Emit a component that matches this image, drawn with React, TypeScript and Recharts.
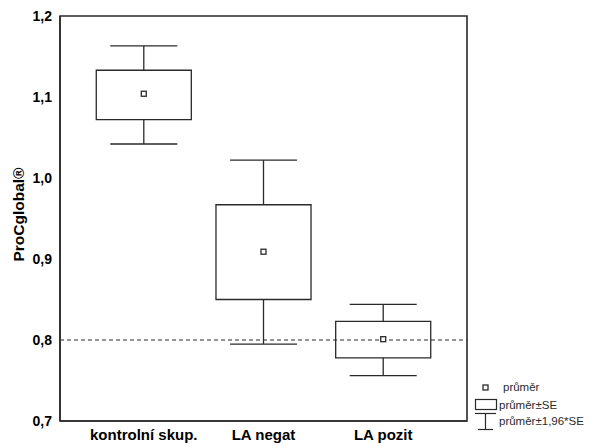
import React from "react";
import {
  ComposedChart,
  Scatter,
  XAxis,
  YAxis,
  ReferenceArea,
  ReferenceLine,
} from "recharts";

const categories = ["kontrolní skup.", "LA negat", "LA pozit"];
const means = [1.104, 0.909, 0.801];
const seLow = [1.072, 0.85, 0.778];
const seHigh = [1.133, 0.967, 0.823];
const ciLow = [1.042, 0.795, 0.756];
const ciHigh = [1.163, 1.022, 0.844];
const yTicks = [0.7, 0.8, 0.9, 1.0, 1.1, 1.2];

const BOX_HALF = 0.397;
const CAP_HALF = 0.28;
const INK = "#2a2a2a";
const FONT = "'Liberation Sans', Arial, sans-serif";

const points = categories.map((name, i) => ({ x: i + 1, y: means[i], name }));

const fmt = (v: number) => v.toFixed(1).replace(".", ",");

function MeanMarker(props: any) {
  const { cx, cy } = props;
  return <rect x={cx - 2.5} y={cy - 2.5} width={5} height={5} fill="#fff" stroke={INK} strokeWidth={1.3} />;
}

function LegendBox() {
  const t = { fontFamily: FONT, fontSize: 11.5, fill: INK, dominantBaseline: "central" as const };
  return (
    <svg width={122} height={58} style={{ display: "block" }}>
      <rect x={9} y={7} width={5} height={5} fill="#fff" stroke={INK} strokeWidth={1.3} />
      <text x={29} y={9} {...t}>průměr</text>
      <rect x={1.5} y={21.5} width={21} height={10} fill="none" stroke={INK} strokeWidth={1.2} />
      <text x={25} y={27} {...t}>průměr±SE</text>
      <line x1={1} y1={35.5} x2={22} y2={35.5} stroke={INK} strokeWidth={1.2} />
      <line x1={11.5} y1={35.5} x2={11.5} y2={51.5} stroke={INK} strokeWidth={1.2} />
      <line x1={4} y1={51.5} x2={19} y2={51.5} stroke={INK} strokeWidth={1.2} />
      <text x={25} y={43} {...t}>průměr±1,96*SE</text>
    </svg>
  );
}

export default function App() {
  return (
    <div style={{ fontFamily: FONT, width: 580, height: 438, position: "relative" }}>
      <ComposedChart width={580} height={438} margin={{ top: 8, right: 121, bottom: 0, left: 0 }}>
        <XAxis
          type="number"
          dataKey="x"
          domain={[0.3, 3.7]}
          ticks={[1, 2, 3]}
          tickFormatter={(v: number) => categories[v - 1] ?? ""}
          tickSize={0}
          tickMargin={8}
          height={25}
          axisLine={{ stroke: INK, strokeWidth: 1.5 }}
          tick={{ fontSize: 15, fontWeight: "bold", fill: "#000", fontFamily: FONT }}
          allowDataOverflow
        />
        <YAxis
          type="number"
          dataKey="y"
          domain={[0.7, 1.2]}
          ticks={yTicks}
          tickFormatter={fmt}
          tickSize={0}
          tickMargin={8}
          width={52}
          axisLine={{ stroke: INK, strokeWidth: 1.5 }}
          tick={{ fontSize: 14, fontWeight: "bold", fill: "#000", fontFamily: FONT }}
          allowDataOverflow
          label={{
            content: (p: any) => {
              const vb = p.viewBox || { x: 0, y: 8, width: 52, height: 405 };
              const cx = 10;
              const cy = vb.y + vb.height / 2 - 4;
              return (
                <text
                  x={cx}
                  y={cy}
                  transform={`rotate(-90, ${cx}, ${cy})`}
                  textAnchor="middle"
                  dominantBaseline="central"
                  fontFamily={FONT}
                  fontSize={15.5}
                  fontWeight="bold"
                  fill="#000"
                >
                  ProCglobal®
                </text>
              );
            },
          }}
        />
        <ReferenceArea
          x1={0.3}
          x2={3.7}
          y1={0.7}
          y2={1.2}
          fill="none"
          stroke={INK}
          strokeWidth={1.6}
          fillOpacity={0}
        />
        <ReferenceLine y={0.8} stroke={INK} strokeDasharray="4 3" strokeWidth={1} />
        {categories.map((c, i) => (
          <ReferenceArea
            key={"box" + c}
            x1={i + 1 - BOX_HALF}
            x2={i + 1 + BOX_HALF}
            y1={seLow[i]}
            y2={seHigh[i]}
            fill="none"
            fillOpacity={0}
            stroke={INK}
            strokeWidth={1.3}
          />
        ))}
        {categories.map((c, i) => (
          <ReferenceLine
            key={"up" + c}
            segment={[
              { x: i + 1, y: seHigh[i] },
              { x: i + 1, y: ciHigh[i] },
            ]}
            stroke={INK}
            strokeWidth={1.3}
          />
        ))}
        {categories.map((c, i) => (
          <ReferenceLine
            key={"dn" + c}
            segment={[
              { x: i + 1, y: seLow[i] },
              { x: i + 1, y: ciLow[i] },
            ]}
            stroke={INK}
            strokeWidth={1.3}
          />
        ))}
        {categories.map((c, i) => (
          <ReferenceLine
            key={"capt" + c}
            segment={[
              { x: i + 1 - CAP_HALF, y: ciHigh[i] },
              { x: i + 1 + CAP_HALF, y: ciHigh[i] },
            ]}
            stroke={INK}
            strokeWidth={1.3}
          />
        ))}
        {categories.map((c, i) => (
          <ReferenceLine
            key={"capb" + c}
            segment={[
              { x: i + 1 - CAP_HALF, y: ciLow[i] },
              { x: i + 1 + CAP_HALF, y: ciLow[i] },
            ]}
            stroke={INK}
            strokeWidth={1.3}
          />
        ))}
        <Scatter data={points} dataKey="y" shape={MeanMarker} isAnimationActive={false} />
      </ComposedChart>
      <div style={{ position: "absolute", left: 466, top: 370 }}>
        <LegendBox />
      </div>
    </div>
  );
}
